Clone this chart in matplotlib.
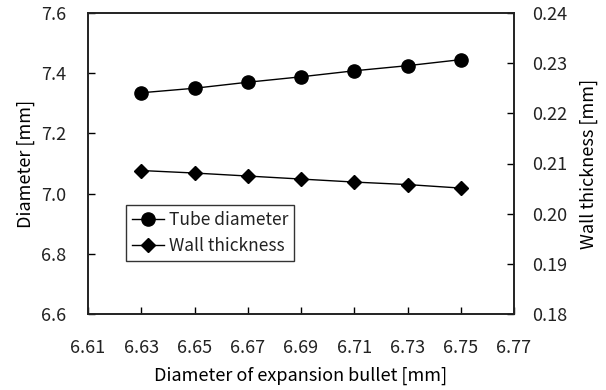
import matplotlib
matplotlib.use("Agg")
import matplotlib.pyplot as plt

bullet = [6.63, 6.65, 6.67, 6.69, 6.71, 6.73, 6.75]
tube_diameter = [7.335, 7.35, 7.37, 7.388, 7.408, 7.425, 7.445]
wall_thickness = [0.2086, 0.2081, 0.2075, 0.2069, 0.2063, 0.2058, 0.2051]

xticks = [6.61, 6.63, 6.65, 6.67, 6.69, 6.71, 6.73, 6.75, 6.77]
yticks_left = [6.6, 6.8, 7.0, 7.2, 7.4, 7.6]
yticks_right = [0.18, 0.19, 0.20, 0.21, 0.22, 0.23, 0.24]

plt.rcParams['font.family'] = ['Noto Sans CJK JP', 'DejaVu Sans']
plt.rcParams['font.size'] = 13
plt.rcParams['text.color'] = '#222222'
plt.rcParams['xtick.labelcolor'] = '#222222'
plt.rcParams['ytick.labelcolor'] = '#222222'

fig = plt.figure(figsize=(6.06, 3.90), dpi=100)
ax = fig.add_axes([88/606, 1 - 314/390, (514-88)/606, (314-13)/390])
ax2 = ax.twinx()

l1, = ax.plot(bullet, tube_diameter, color='black', lw=1.0, marker='o', ms=9.5, label='Tube diameter')
l2, = ax2.plot(bullet, wall_thickness, color='black', lw=1.0, marker='D', ms=7, label='Wall thickness')

ax.set_xlim(6.61, 6.77)
ax.set_ylim(6.6, 7.6)
ax2.set_ylim(0.18, 0.24)
ax.set_xticks(xticks)
ax.set_xticklabels([f"{v:.2f}" for v in xticks])
ax.set_yticks(yticks_left)
ax.set_yticklabels([f"{v:.1f}" for v in yticks_left])
ax2.set_yticks(yticks_right)
ax2.set_yticklabels([f"{v:.2f}" for v in yticks_right])

ax.tick_params(axis='y', direction='in', length=5, width=1, pad=16)
ax.tick_params(axis='x', direction='in', length=5, width=1, pad=18)
ax2.tick_params(direction='in', length=5, width=1, pad=13)
for a in (ax, ax2):
    for s in a.spines.values():
        s.set_linewidth(1.2)
        s.set_color('#222222')

ax.set_xlabel('Diameter of expansion bullet [mm]', labelpad=7)
ax.set_ylabel('Diameter [mm]', labelpad=4)
ax2.set_ylabel('Wall thickness [mm]', labelpad=9)

leg = ax.legend(handles=[l1, l2], loc='lower left', bbox_to_anchor=(0.09, 0.175),
                borderaxespad=0, frameon=True, fancybox=False, edgecolor='black',
                handlelength=1.8, handletextpad=0.3, borderpad=0.35, labelspacing=0.45,
                fontsize=12.5)
leg.get_frame().set_linewidth(1.0)

fig.savefig('out.png', dpi=100)
